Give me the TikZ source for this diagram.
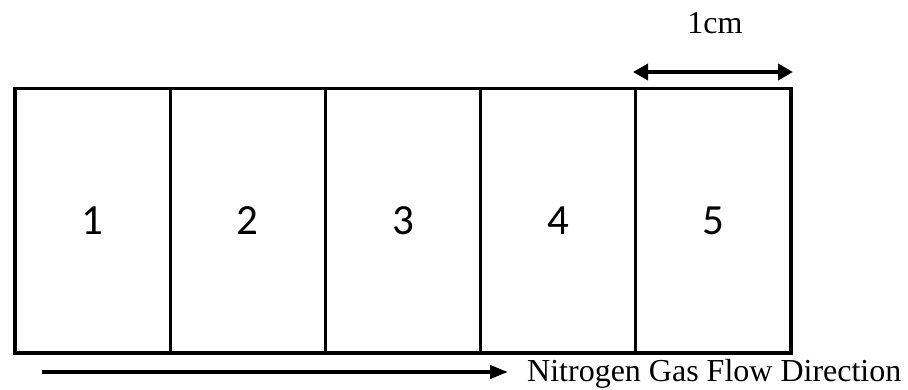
\documentclass[tikz,border=0pt]{standalone}
\usepackage{fontspec}
\setmainfont{Liberation Serif}
\newfontfamily\numfont{Carlito}
\usetikzlibrary{arrows.meta}
\begin{document}
\begin{tikzpicture}[x=1pt,y=1pt,
  cell/.style={draw, line width=2.7pt, minimum width=155.2pt, minimum height=264.5pt,
    inner sep=0pt, outer sep=0pt, font=\numfont\fontsize{43}{43}\selectfont},
  label/.style={inner sep=0pt, font=\fontsize{32}{32}\selectfont},
  dimarrow/.style={line width=4pt, {Triangle[length=15pt,width=16pt]}-{Triangle[length=15pt,width=16pt]}},
  flowarrow/.style={line width=4pt, -{Triangle[length=18pt,width=13pt]}}]
\useasboundingbox (0,0) rectangle (908,-389);
\node[cell] (c1) at (92.6,-220.75) {1};
\node[cell] (c2) at (247.8,-220.75) {2};
\node[cell] (c3) at (403.0,-220.75) {3};
\node[cell] (c4) at (558.2,-220.75) {4};
\node[cell] (c5) at (713.4,-220.75) {5};
\draw[line width=3.3pt] (c1.north west) rectangle (c5.south east);
% dimension arrow
\coordinate (d1) at (633,-72);
\coordinate (d2) at (793,-72);
\draw[dimarrow] (d1) -- (d2);
\node[label, anchor=base] (dim) at (715,-33) {1cm};
% flow arrow
\node[label, anchor=base west] (flow) at (527,-381) {Nitrogen Gas Flow Direction};
\coordinate (s) at (42,-372);
\coordinate (e) at (508,-372);
\draw[flowarrow] (s) -- (e);
\end{tikzpicture}
\end{document}
